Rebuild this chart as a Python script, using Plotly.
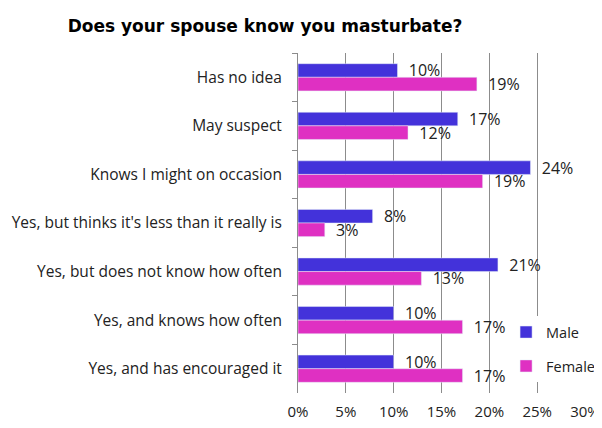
import plotly.graph_objects as go

categories = [
    "Has no idea",
    "May suspect",
    "Knows I might on occasion",
    "Yes, but thinks it's less than it really is",
    "Yes, but does not know how often",
    "Yes, and knows how often",
    "Yes, and has encouraged it",
]
male = [0.104, 0.167, 0.243, 0.078, 0.209, 0.100, 0.100]
female = [0.187, 0.115, 0.193, 0.028, 0.129, 0.172, 0.172]
x_ticks = [0, 0.05, 0.10, 0.15, 0.20, 0.25, 0.30]
x_tick_labels = ["0%", "5%", "10%", "15%", "20%", "25%", "30%"]

font = "Open Sans, Lato, sans-serif"

fig = go.Figure()
fig.add_trace(go.Bar(
    y=categories, x=male, orientation="h", name="Male",
    marker_color="#4332DA", texttemplate="  %{x:.0%}", textposition="outside",
    textfont=dict(size=16, color="#222222", family=font), cliponaxis=False,
    legendgroup="m",
))
fig.add_trace(go.Bar(
    y=categories, x=female, orientation="h", name="Female",
    marker_color="#DF30C2", texttemplate="  %{x:.0%}", textposition="outside",
    textfont=dict(size=16, color="#222222", family=font), cliponaxis=False,
    legendgroup="f",
))

# page body adds an 8px margin, so the figure is 8px smaller than the window
fig.update_layout(
    width=594, height=420,
    margin=dict(l=290, r=17, t=45, b=35, autoexpand=False),
    paper_bgcolor="white", plot_bgcolor="white",
    barmode="group", bargap=0.44, bargroupgap=0,
    title=dict(text="<b>Does your spouse know you masturbate?</b>",
               x=257 / 594, xanchor="center", y=1 - 18 / 420, yanchor="middle",
               font=dict(family="DejaVu Sans", size=17, color="black")),
    font=dict(family=font, size=15, color="#222222"),
    legend=dict(x=0.725, xanchor="left", y=0.226, yanchor="top",
                bgcolor="white", font=dict(size=14.5, family=font),
                tracegroupgap=12, itemwidth=30),
    showlegend=True,
    uniformtext=dict(minsize=16, mode="show"),
)
fig.update_xaxes(
    range=[0, 0.30], tickvals=x_ticks, ticktext=x_tick_labels,
    showgrid=True, gridcolor="#8c8c8c", gridwidth=1, zeroline=False,
    showline=False, ticks="", tickfont=dict(size=15, family=font),
    ticklabelstandoff=8, automargin=False,
)
fig.update_yaxes(
    autorange="reversed", showline=True, linecolor="#8c8c8c",
    ticks="outside", tickson="boundaries", ticklen=5, tickcolor="#8c8c8c",
    tickfont=dict(size=15.5, family=font), ticklabelstandoff=12,
    showgrid=False, automargin=False,
)

fig.write_html("out.html")
